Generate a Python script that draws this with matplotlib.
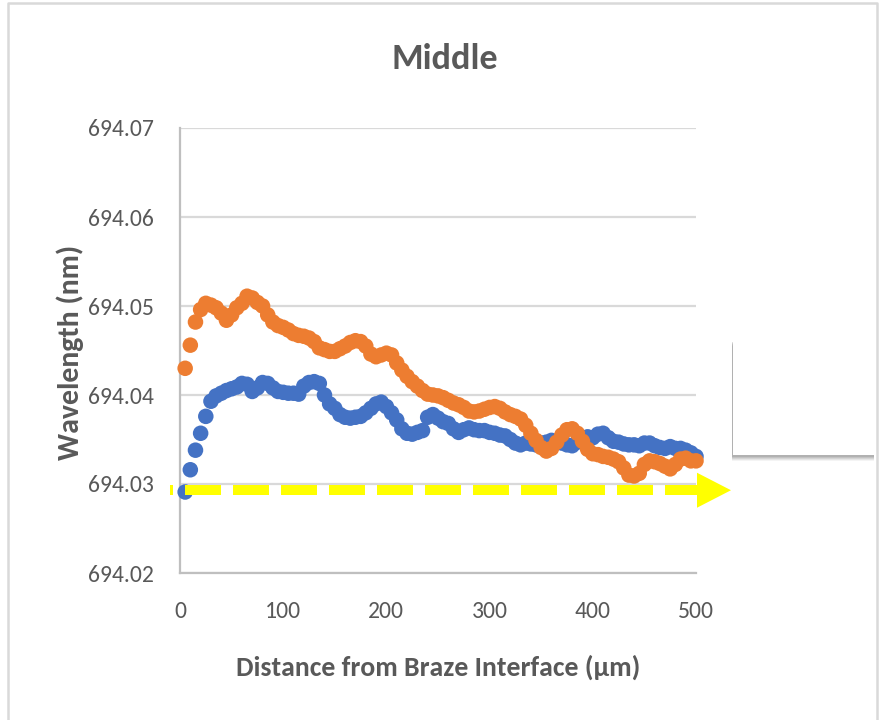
import matplotlib
matplotlib.use("Agg")
import matplotlib.pyplot as plt
from matplotlib import font_manager
from matplotlib.patches import Rectangle, Polygon
from matplotlib.lines import Line2D

# ---- data -------------------------------------------------------------
distance_um = [
    5, 10, 15, 20, 25, 30, 35, 40, 45, 50, 55, 60, 65, 70, 75, 80, 85, 90, 95, 100,
    105, 110, 115, 120, 125, 130, 135, 140, 145, 150, 155, 160, 165, 170, 175, 180, 185, 190, 195, 200,
    205, 210, 215, 220, 225, 230, 235, 240, 245, 250, 255, 260, 265, 270, 275, 280, 285, 290, 295, 300,
    305, 310, 315, 320, 325, 330, 335, 340, 345, 350, 355, 360, 365, 370, 375, 380, 385, 390, 395, 400,
    405, 410, 415, 420, 425, 430, 435, 440, 445, 450, 455, 460, 465, 470, 475, 480, 485, 490, 495, 500,
]

wavelength_blue = [
    694.0291, 694.0316, 694.0338, 694.0357, 694.0376, 694.0393, 694.0399, 694.0402, 694.0405, 694.0407,
    694.0409, 694.0413, 694.0412, 694.0404, 694.0408, 694.0414, 694.0413, 694.0408, 694.0404, 694.0403,
    694.0402, 694.0402, 694.0401, 694.0410, 694.0414, 694.0415, 694.0413, 694.0400, 694.0390, 694.0385,
    694.0378, 694.0375, 694.0374, 694.0375, 694.0376, 694.0380, 694.0385, 694.0390, 694.0392, 694.0387,
    694.0380, 694.0372, 694.0362, 694.0357, 694.0356, 694.0358, 694.0360, 694.0375, 694.0378, 694.0374,
    694.0370, 694.0368, 694.0362, 694.0358, 694.0361, 694.0363, 694.0361, 694.0360, 694.0360, 694.0358,
    694.0357, 694.0355, 694.0354, 694.0350, 694.0346, 694.0344, 694.0346, 694.0345, 694.0344, 694.0346,
    694.0347, 694.0349, 694.0348, 694.0346, 694.0344, 694.0343, 694.0347, 694.0351, 694.0353, 694.0352,
    694.0356, 694.0357, 694.0352, 694.0348, 694.0347, 694.0345, 694.0344, 694.0344, 694.0343, 694.0346,
    694.0346, 694.0343, 694.0341, 694.0340, 694.0342, 694.0340, 694.0340, 694.0338, 694.0335, 694.0331,
]

wavelength_orange = [
    694.0430, 694.0456, 694.0482, 694.0496, 694.0503, 694.0501, 694.0498, 694.0492, 694.0484, 694.0490,
    694.0498, 694.0503, 694.0511, 694.0509, 694.0504, 694.0500, 694.0490, 694.0482, 694.0478, 694.0476,
    694.0473, 694.0469, 694.0467, 694.0466, 694.0464, 694.0460, 694.0453, 694.0451, 694.0449, 694.0449,
    694.0452, 694.0455, 694.0459, 694.0461, 694.0460, 694.0455, 694.0446, 694.0443, 694.0445, 694.0447,
    694.0445, 694.0436, 694.0428, 694.0421, 694.0415, 694.0410, 694.0405, 694.0401, 694.0400, 694.0399,
    694.0397, 694.0394, 694.0391, 694.0389, 694.0386, 694.0382, 694.0381, 694.0382, 694.0384, 694.0386,
    694.0387, 694.0385, 694.0381, 694.0378, 694.0376, 694.0373, 694.0366, 694.0357, 694.0349, 694.0341,
    694.0337, 694.0340, 694.0347, 694.0355, 694.0361, 694.0362, 694.0357, 694.0348, 694.0339, 694.0334,
    694.0333, 694.0331, 694.0330, 694.0328, 694.0325, 694.0318, 694.0310, 694.0309, 694.0312, 694.0322,
    694.0326, 694.0325, 694.0323, 694.0320, 694.0317, 694.0322, 694.0328, 694.0329, 694.0326, 694.0326,
]

x_ticks = [0, 100, 200, 300, 400, 500]
y_ticks = [694.02, 694.03, 694.04, 694.05, 694.06, 694.07]
y_tick_labels = ["694.02", "694.03", "694.04", "694.05", "694.06", "694.07"]
baseline_nm = 694.0293

# ---- fonts ------------------------------------------------------------
available = {f.name for f in font_manager.fontManager.ttflist}
base_family = "Carlito" if "Carlito" in available else "DejaVu Sans"
plt.rcParams["font.family"] = [base_family, "DejaVu Sans"]

TEXT = "#595959"
GRID = "#D9D9D9"
BLUE = "#4472C4"
ORANGE = "#ED7D31"
YELLOW = "#FFFF00"

W, H = 882, 720
fig = plt.figure(figsize=(W / 100, H / 100), dpi=100)
fig.patch.set_facecolor("white")


def fx(px):
    return px / W


def fy(py):
    return 1 - py / H


ax = fig.add_axes([fx(180), fy(573), fx(696) - fx(180), fy(128) - fy(573)])
ax.set_xlim(0, 500)
ax.set_ylim(694.02, 694.07)
ax.set_xticks(x_ticks)
ax.set_yticks(y_ticks)
ax.set_yticklabels(y_tick_labels)
ax.tick_params(axis="both", length=0, labelsize=17, colors=TEXT)
ax.tick_params(axis="y", pad=19)
ax.tick_params(axis="x", pad=20.5)
ax.grid(axis="y", color=GRID, linewidth=1.6)
ax.set_axisbelow(True)
for side in ("top", "right"):
    ax.spines[side].set_visible(False)
for side in ("left", "bottom"):
    ax.spines[side].set_color("#BFBFBF")
    ax.spines[side].set_linewidth(1.6)

ax.scatter(distance_um, wavelength_blue, s=125, color=BLUE, edgecolors="none", zorder=3, clip_on=False)
ax.scatter(distance_um, wavelength_orange, s=125, color=ORANGE, edgecolors="none", zorder=4, clip_on=False)

# yellow dashed arrow along the baseline level
y_base = ax.transData.transform((0, baseline_nm))[1]
yb = y_base / H
lw = 7.2
fig.add_artist(Line2D([fx(170), fx(698)], [yb, yb], color=YELLOW, linewidth=lw,
                      linestyle=(3.3, (3.6, 1.2)), solid_capstyle="butt",
                      dash_capstyle="butt", zorder=6))
fig.add_artist(Polygon([[fx(697), yb + 17.5 / H], [fx(731), yb], [fx(697), yb - 17.5 / H]],
                       closed=True, color=YELLOW, linewidth=0, zorder=6))

# empty legend box with a soft shadow
bw = fx(875) - fx(733)
bh = fy(340) - fy(455)
for off, alpha in ((6, 0.08), (5, 0.12), (4, 0.16), (3, 0.2), (2, 0.25)):
    fig.add_artist(Rectangle((fx(733 - 1), fy(455 + off)), bw, bh,
                             facecolor="#7F7F7F", edgecolor="none", alpha=alpha, zorder=7))
fig.add_artist(Rectangle((fx(733), fy(455)), bw, bh,
                         facecolor="white", edgecolor="none", zorder=8))

# chart area border
fig.add_artist(Line2D([fx(8), fx(8), fx(877), fx(877)], [0, fy(3), fy(3), 0],
                      color=GRID, linewidth=1.8, zorder=1))

fig.text(fx(445), fy(69), "Middle", ha="center", va="baseline", fontsize=26,
         fontweight="bold", color=TEXT)
fig.text(fx(438), fy(676), "Distance from Braze Interface (µm)", ha="center", va="baseline",
         fontsize=20, fontweight="bold", color=TEXT)
fig.text(fx(79), fy(352), "Wavelength (nm)", ha="center", va="baseline", rotation=90,
         rotation_mode="anchor", fontsize=21.5, fontweight="bold", color=TEXT)

fig.savefig("out.png", dpi=100)
